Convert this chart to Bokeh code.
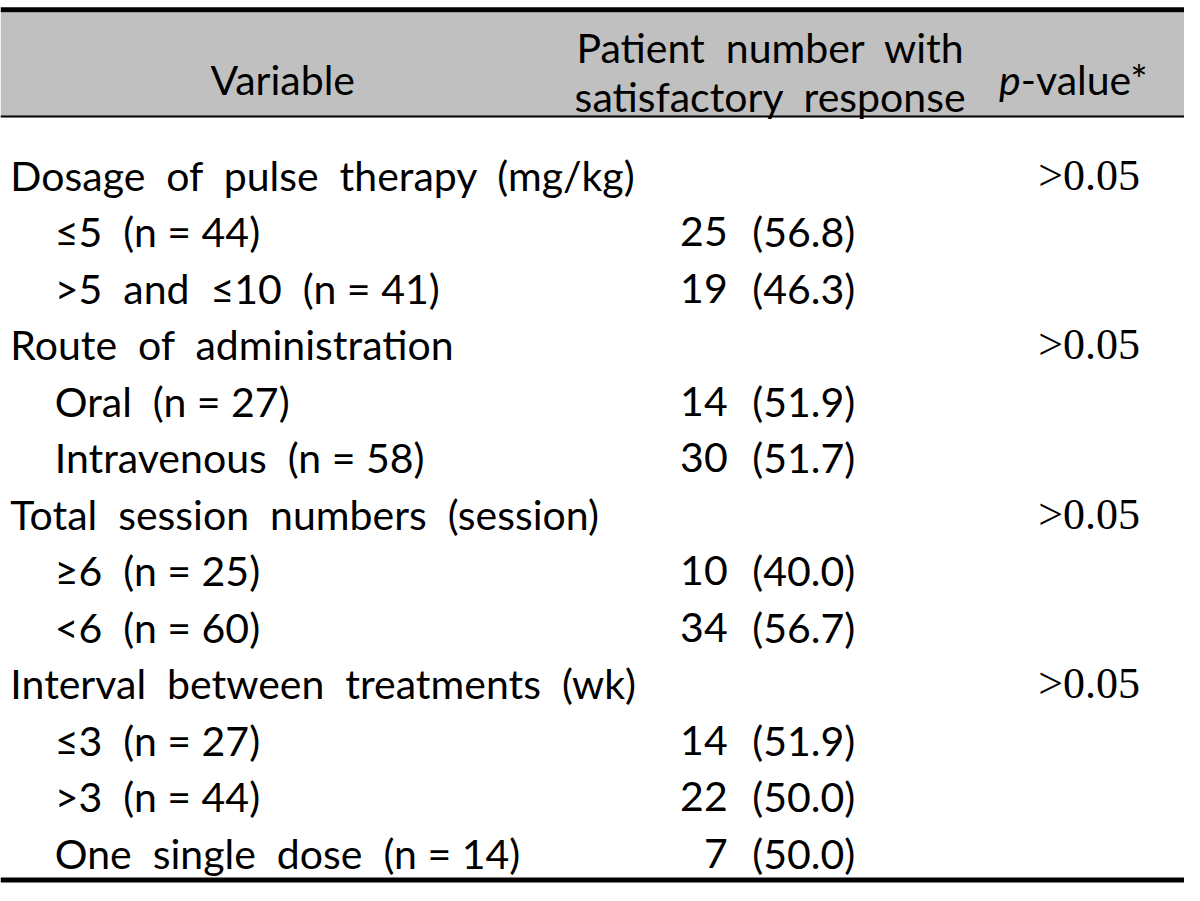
from bokeh.plotting import figure
from bokeh.models import Range1d, ColumnDataSource
from bokeh.core.properties import value
from bokeh.embed import file_html
from bokeh.resources import INLINE

# ---- table content ----
variables = [
    "Dosage of pulse therapy (mg/kg)",
    "≤5 (n=44)",
    ">5 and ≤10 (n=41)",
    "Route of administration",
    "Oral (n=27)",
    "Intravenous (n=58)",
    "Total session numbers (session)",
    "≥6 (n=25)",
    "<6 (n=60)",
    "Interval between treatments (wk)",
    "≤3 (n=27)",
    ">3 (n=44)",
    "One single dose (n=14)",
]
levels = [0, 1, 1, 0, 1, 1, 0, 1, 1, 0, 1, 1, 1]
responders = [None, 25, 19, None, 14, 30, None, 10, 34, None, 14, 22, 7]
percents = [None, 56.8, 46.3, None, 51.9, 51.7, None, 40.0, 56.7, None, 51.9, 50.0, 50.0]
p_values = [">0.05", "", "", ">0.05", "", "", ">0.05", "", "", ">0.05", "", "", ""]
header_variable = "Variable"
header_patient = ["Patient number with", "satisfactory response"]
header_p_italic = "p"
header_p_rest = "-value*"

SANS = value("Lato")
SERIF = value("Liberation Serif")
FS = "41px"


def spaced(s):
    # wide word spacing as in the typeset table (non-collapsing spaces)
    s = s.replace(" ", "\u00a0\u00a0")
    s = s.replace("=", "\u00a0=\u00a0")
    return s


W, H = 1184, 885
p = figure(width=W, height=H, x_range=Range1d(0, 1200), y_range=Range1d(901, 0),
           output_backend="svg", toolbar_location=None, min_border=0)
p.axis.visible = False
p.grid.visible = False
p.outline_line_color = None
p.background_fill_color = "white"
p.border_fill_color = "white"

# header band and rules
p.quad(left=[0], right=[1200], top=[12], bottom=[118], fill_color="#c0c0c0", line_color=None)
p.segment(x0=[0], x1=[1200], y0=[9.5], y1=[9.5], line_width=5, color="black")
p.segment(x0=[0], x1=[1200], y0=[118], y1=[118], line_width=2, color="black")
p.segment(x0=[0], x1=[1200], y0=[895.5], y1=[895.5], line_width=5, color="black")

# header texts
p.text(x=[286], y=[80], text=[header_variable], text_font=SANS, text_font_size=FS,
       text_align="center", text_baseline="alphabetic", text_color="black")
p.text(x=[780, 780], y=[48, 98], text=[spaced(t) for t in header_patient], text_font=SANS,
       text_font_size=FS, text_align="center", text_baseline="alphabetic", text_color="black")
p.text(x=[1034], y=[80], text=[header_p_italic], text_font=SANS, text_font_size=FS,
       text_font_style="italic", text_align="right", text_baseline="alphabetic", text_color="black")
p.text(x=[1034], y=[80], text=[header_p_rest], text_font=SANS, text_font_size=FS,
       text_align="left", text_baseline="alphabetic", text_color="black")

# body rows
row_y = [178 + 57.5 * i for i in range(len(variables))]
var_x = [10 if lv == 0 else 55 for lv in levels]
src = ColumnDataSource(dict(x=var_x, y=row_y, t=[spaced(v) for v in variables]))
p.text(x="x", y="y", text="t", source=src, text_font=SANS, text_font_size=FS,
       text_align="left", text_baseline="alphabetic", text_color="black")

num_y = [y for y, n in zip(row_y, responders) if n is not None]
num_t = [str(n) for n in responders if n is not None]
pct_t = ["(%.1f)" % v for v in percents if v is not None]
p.text(x=[737] * len(num_t), y=num_y, text=num_t, text_font=SANS, text_font_size=FS,
       text_align="right", text_baseline="alphabetic", text_color="black")
p.text(x=[762] * len(pct_t), y=num_y, text=pct_t, text_font=SANS, text_font_size=FS,
       text_align="left", text_baseline="alphabetic", text_color="black")

pv_y = [y for y, s in zip(row_y, p_values) if s]
pv_t = [s for s in p_values if s]
p.text(x=[1155] * len(pv_t), y=pv_y, text=pv_t, text_font=SERIF, text_font_size="44px",
       text_align="right", text_baseline="alphabetic", text_color="black")

open("out.html", "w").write(file_html(p, INLINE))
